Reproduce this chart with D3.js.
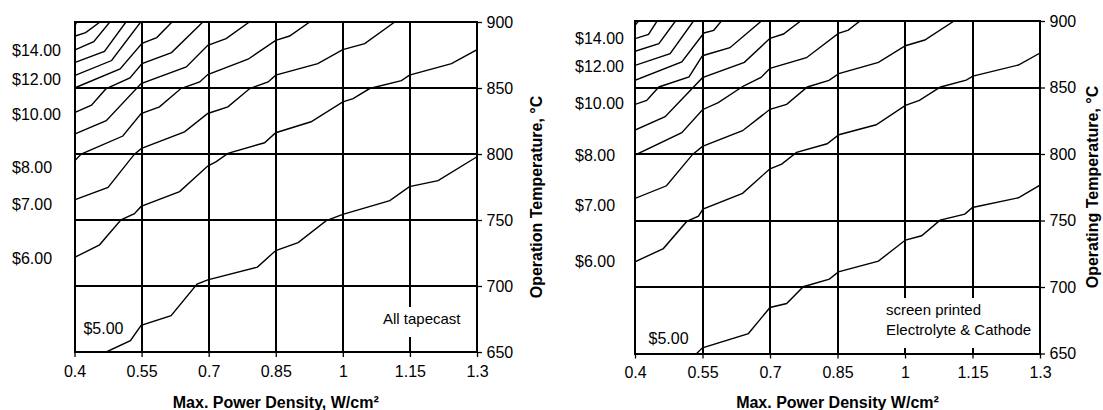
<!DOCTYPE html>
<html lang="en">
<head>
<meta charset="utf-8">
<title>Cost contours - tapecast vs screen printed</title>
<script src="https://d3js.org/d3.v7.min.js"></script>
<style>
  html, body { margin: 0; padding: 0; background: #fff; }
  text { font-family: "Liberation Sans", Arial, sans-serif; font-size: 16px; fill: #000; }
  .grid line { stroke: #000; stroke-width: 2px; shape-rendering: crispEdges; }
  .frame { fill: none; stroke: #000; stroke-width: 2px; shape-rendering: crispEdges; }
  path.contour { fill: none; stroke: #000; stroke-width: 1.4px; }
  .axis line { stroke: #000; stroke-width: 1.3px; }
  .axis path { display: none; }
  .title { font-weight: bold; }
  .note { font-size: 15px; }
</style>
</head>
<body>
<script>
// axis ticks
var powerTicks = [0.4, 0.55, 0.7, 0.85, 1, 1.15, 1.3];
var tempTicks = [650, 700, 750, 800, 850, 900];

// cost labels on the left of each panel (and the $5.00 one inside)
var costLabels = ["$14.00", "$12.00", "$10.00", "$8.00", "$7.00", "$6.00"];
var tapecastLabelTemps = [878.2, 856.8, 829.8, 790.0, 761.6, 720.9];
var screenLabelTemps = [887.0, 865.6, 838.1, 799.2, 761.6, 718.9];
var tapecastFive = [0.42, 668];
var screenFive = [0.43, 661];

// contour lines, [power density, temperature], cost $5 .. $16
var tapecastCosts = [5, 6, 7, 8, 9, 10, 11, 12, 13, 14, 15, 16];
var tapecastLines = [
  [[0.471,650],[0.525,658.6],[0.549,670.2],[0.616,677.5],[0.674,701.4],[0.698,704.7],[0.809,714.3],[0.850,726.9],[0.900,732.9],[0.963,749.5],[1.0,754.3],[1.105,764.7],[1.149,775.3],[1.213,779.8],[1.3,797.9]],
  [[0.4,721.6],[0.456,731.2],[0.504,750.1],[0.534,754.8],[0.549,760.3],[0.635,771.5],[0.698,790.9],[0.717,794.2],[0.743,800.5],[0.825,808.5],[0.850,816.1],[0.929,824.4],[1.0,839.5],[1.023,842],[1.06,849.6],[1.131,855.6],[1.149,859.7],[1.243,868.5],[1.3,879.1]],
  [[0.4,765.2],[0.475,774.7],[0.534,799.9],[0.550,804.2],[0.646,816.8],[0.698,830.7],[0.743,835.7],[0.792,849.6],[0.833,854.6],[0.850,859.7],[0.944,868.5],[1.0,879.1],[1.049,883.6],[1.116,900]],
  [[0.4,794.7],[0.415,800],[0.508,813.6],[0.549,830.7],[0.590,835.7],[0.638,849.6],[0.680,854.6],[0.698,860.2],[0.788,871.8],[0.850,886.1],[0.881,889.4],[0.926,900]],
  [[0.4,815.1],[0.471,825.2],[0.549,853.4],[0.650,866.0],[0.698,882.4],[0.739,887.4],[0.791,900]],
  [[0.4,831.3],[0.438,837],[0.470,849.3],[0.524,857.6],[0.551,868.5],[0.617,876.8],[0.687,900]],
  [[0.4,850],[0.502,864.4],[0.551,883.9],[0.584,888.2],[0.618,900]],
  [[0.4,859.4],[0.483,870.8],[0.548,900]],
  [[0.4,869.2],[0.467,877.7],[0.515,900]],
  [[0.4,878.7],[0.443,885.1],[0.479,900]],
  [[0.4,889.2],[0.425,892],[0.457,900]],
  [[0.4,896.7],[0.405,900]]
];

var screenCosts = [5, 6, 7, 8, 9, 10, 11, 12, 13, 14, 15];
var screenLines = [
  [[0.537,650],[0.550,654.3],[0.652,665.0],[0.700,684.6],[0.737,687.6],[0.774,700.2],[0.832,705.9],[0.852,711.4],[0.941,719.5],[1.001,735.3],[1.037,738.5],[1.078,750.3],[1.133,754.8],[1.150,759.8],[1.252,767.1],[1.3,776.6]],
  [[0.4,718.9],[0.463,728.9],[0.515,749.3],[0.541,753.3],[0.551,758.6],[0.639,770.4],[0.700,788.9],[0.726,792.4],[0.759,801.2],[0.827,807.7],[0.853,814.5],[0.936,822.0],[1.001,836.6],[1.032,840.3],[1.079,850.4],[1.136,855.6],[1.151,858.6],[1.252,866.9],[1.3,875.9]],
  [[0.4,766.6],[0.470,776.1],[0.528,799.7],[0.550,805.7],[0.639,817.5],[0.700,833.6],[0.737,837.3],[0.783,850.4],[0.831,855.4],[0.853,860.4],[0.941,868.9],[1.001,881.4],[1.044,885.7],[1.109,900]],
  [[0.4,799.2],[0.504,816.0],[0.550,833.3],[0.585,838.6],[0.641,851.1],[0.680,857.6],[0.700,864.4],[0.781,872.4],[0.852,890.7],[0.874,893.2],[0.9,900]],
  [[0.4,818.0],[0.467,828.0],[0.550,857.4],[0.643,868.9],[0.700,887.0],[0.730,890.2],[0.768,900]],
  [[0.4,837.3],[0.426,840.3],[0.453,850.4],[0.520,857.9],[0.550,873.9],[0.611,879.9],[0.681,900]],
  [[0.4,855.4],[0.504,869.2],[0.545,887.4],[0.553,891],[0.575,893],[0.592,900]],
  [[0.4,866.6],[0.478,875.4],[0.530,900]],
  [[0.4,877.2],[0.453,882.9],[0.490,900]],
  [[0.4,886.7],[0.430,890],[0.449,900]],
  [[0.4,896.7],[0.408,900]]
];

var svg = d3.select("body").append("svg")
  .attr("width", 1103).attr("height", 410);

function drawPanel(p) {
  var x = d3.scaleLinear().domain([0.4, 1.3]).range([p.left, p.right]);
  var y = d3.scaleLinear().domain([650, 900]).range([p.bottom, p.top]);
  var g = svg.append("g");

  g.append("clipPath").attr("id", p.id + "clip")
    .append("rect")
    .attr("x", p.left).attr("y", p.top)
    .attr("width", p.right - p.left).attr("height", p.bottom - p.top);

  var grid = g.append("g").attr("class", "grid");
  grid.selectAll("line.v").data(powerTicks).enter().append("line")
    .attr("x1", function(d) { return x(d); }).attr("x2", function(d) { return x(d); })
    .attr("y1", p.top).attr("y2", p.bottom);
  grid.selectAll("line.h").data(tempTicks).enter().append("line")
    .attr("x1", p.left).attr("x2", p.right)
    .attr("y1", function(d) { return y(d); }).attr("y2", function(d) { return y(d); });

  var line = d3.line()
    .x(function(d) { return x(d[0]); })
    .y(function(d) { return y(d[1]); });

  g.append("g").attr("clip-path", "url(#" + p.id + "clip)")
    .selectAll("path").data(p.lines).enter().append("path")
    .attr("class", "contour")
    .attr("d", line);

  // white box behind the note
  g.append("rect")
    .attr("x", p.box[0]).attr("y", p.box[1]).attr("width", p.box[2]).attr("height", p.box[3])
    .attr("fill", "#fff");
  p.note.forEach(function(t, i) {
    g.append("text").attr("class", "note")
      .attr("x", p.noteX).attr("y", p.noteY + i * 19.5).text(t);
  });

  g.append("rect").attr("class", "frame")
    .attr("x", p.left).attr("y", p.top)
    .attr("width", p.right - p.left).attr("height", p.bottom - p.top);

  g.append("g").attr("class", "axis")
    .attr("transform", "translate(0," + p.bottom + ")")
    .call(d3.axisBottom(x).tickValues(powerTicks).tickSize(5).tickPadding(8.5)
      .tickFormat(function(d) { return String(d); }))
    .attr("font-size", null).attr("font-family", null);

  g.append("g").attr("class", "axis")
    .attr("transform", "translate(" + p.right + ",0)")
    .call(d3.axisRight(y).tickValues(tempTicks).tickSize(5).tickPadding(4.5)
      .tickFormat(function(d) { return String(d); }))
    .attr("font-size", null).attr("font-family", null);

  g.selectAll("text.cost").data(costLabels).enter().append("text")
    .attr("class", "cost")
    .attr("x", p.labelX)
    .attr("y", function(d, i) { return y(p.labelTemps[i]); })
    .attr("dy", "0.35em")
    .text(function(d) { return d; });

  g.append("text")
    .attr("x", x(p.five[0])).attr("y", y(p.five[1])).attr("dy", "0.35em")
    .text("$5.00");

  g.append("text").attr("class", "title")
    .attr("text-anchor", "middle")
    .attr("x", (p.left + p.right) / 2).attr("y", 408)
    .text(p.xTitle);

  g.append("text").attr("class", "title")
    .attr("text-anchor", "middle")
    .attr("transform", "translate(" + p.yTitleX + "," + p.yTitleY + ") rotate(-90)")
    .text(p.yTitle);
}

drawPanel({
  id: "tape", left: 74.5, right: 477, top: 22, bottom: 352,
  lines: tapecastLines, labelTemps: tapecastLabelTemps, labelX: 12, five: tapecastFive,
  note: ["All tapecast"], noteX: 383, noteY: 324, box: [379, 307, 88, 30],
  xTitle: "Max. Power Density, W/cm²",
  yTitle: "Operation Temperature, °C", yTitleX: 541.5, yTitleY: 197
});

drawPanel({
  id: "screen", left: 635, right: 1040, top: 21, bottom: 353.5,
  lines: screenLines, labelTemps: screenLabelTemps, labelX: 575, five: screenFive,
  note: ["screen printed", "Electrolyte & Cathode"], noteX: 886, noteY: 315, box: [881, 298, 155, 50],
  xTitle: "Max. Power Density W/cm²",
  yTitle: "Operating Temperature, °C", yTitleX: 1098, yTitleY: 187
});
</script>
</body>
</html>
